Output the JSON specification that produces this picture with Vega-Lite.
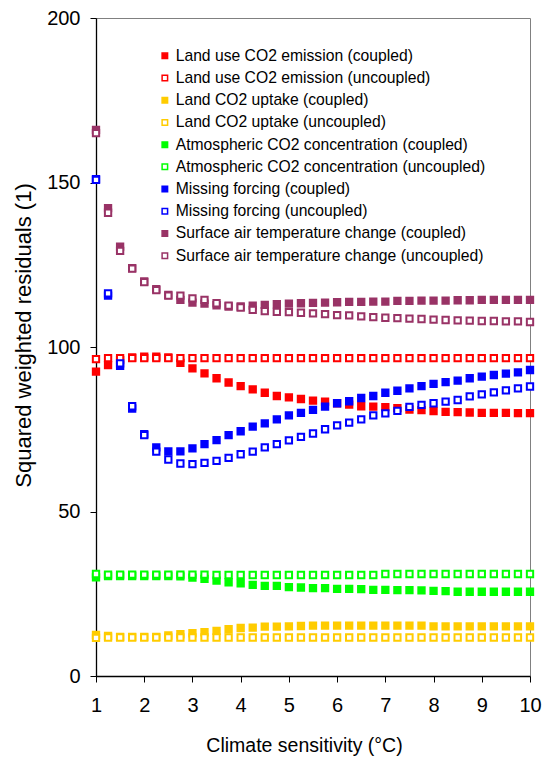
{
  "$schema": "https://vega.github.io/schema/vega-lite/v6.json",
  "width": 434,
  "height": 658,
  "autosize": {"type": "none"},
  "padding": {"left": 96, "top": 18, "right": 13, "bottom": 82},
  "config": {
    "font": "Liberation Sans",
    "view": {"stroke": "#808080", "strokeWidth": 1},
    "axis": {
      "grid": false,
      "domainColor": "black",
      "tickColor": "black",
      "labelColor": "black",
      "titleColor": "black",
      "labelFont": "Liberation Sans",
      "titleFont": "Liberation Sans",
      "labelFontSize": 20,
      "titleFontSize": 19.5,
      "titleFontWeight": "normal",
      "tickSize": 6,
      "domainWidth": 1.3,
      "tickWidth": 1,
      "labelFlush": false,
      "labelOverlap": false
    },
    "legend": {
      "orient": "none",
      "legendX": 61,
      "legendY": 30,
      "padding": 0,
      "labelFont": "Liberation Sans",
      "labelFontSize": 15.7,
      "labelColor": "black",
      "labelLimit": 500,
      "symbolType": "square",
      "symbolSize": 30,
      "symbolStrokeWidth": 1.5,
      "symbolOpacity": 1,
      "labelOffset": 3,
      "rowPadding": 5.2
    }
  },
  "data": {
    "values": [
      {"x": 1, "Ec": 92.5, "Eu": 96.3, "Uc": 12.5, "Uu": 11.6, "Ac": 30.0, "Au": 31.0, "Mc": 151.0, "Mu": 150.8, "Tc": 166.0, "Tu": 165.0},
      {"x": 1.25, "Ec": 94.5, "Eu": 96.6, "Uc": 12.2, "Uu": 11.7, "Ac": 30.4, "Au": 30.8, "Mc": 115.6, "Mu": 116.3, "Tc": 142.2, "Tu": 140.8},
      {"x": 1.5, "Ec": 96.0, "Eu": 96.6, "Uc": 11.9, "Uu": 11.7, "Ac": 30.4, "Au": 30.8, "Mc": 94.3, "Mu": 95.0, "Tc": 130.5, "Tu": 129.2},
      {"x": 1.75, "Ec": 96.8, "Eu": 96.6, "Uc": 11.9, "Uu": 11.7, "Ac": 30.4, "Au": 30.8, "Mc": 81.3, "Mu": 82.0, "Tc": 124.0, "Tu": 123.8},
      {"x": 2, "Ec": 97.1, "Eu": 96.6, "Uc": 11.9, "Uu": 11.7, "Ac": 30.4, "Au": 30.8, "Mc": 73.5, "Mu": 73.2, "Tc": 119.9, "Tu": 119.7},
      {"x": 2.25, "Ec": 97.1, "Eu": 96.6, "Uc": 11.9, "Uu": 11.7, "Ac": 30.4, "Au": 30.8, "Mc": 69.5, "Mu": 68.2, "Tc": 117.6, "Tu": 117.3},
      {"x": 2.5, "Ec": 96.8, "Eu": 96.6, "Uc": 12.3, "Uu": 11.7, "Ac": 30.4, "Au": 30.8, "Mc": 68.3, "Mu": 65.8, "Tc": 115.8, "Tu": 115.6},
      {"x": 2.75, "Ec": 95.2, "Eu": 96.6, "Uc": 12.7, "Uu": 11.7, "Ac": 30.3, "Au": 30.8, "Mc": 68.3, "Mu": 64.6, "Tc": 114.3, "Tu": 115.6},
      {"x": 3, "Ec": 93.5, "Eu": 96.6, "Uc": 13.0, "Uu": 11.7, "Ac": 29.9, "Au": 30.8, "Mc": 69.2, "Mu": 64.4, "Tc": 113.5, "Tu": 114.8},
      {"x": 3.25, "Ec": 92.0, "Eu": 96.6, "Uc": 13.3, "Uu": 11.7, "Ac": 29.5, "Au": 30.8, "Mc": 70.5, "Mu": 64.8, "Tc": 113.2, "Tu": 114.3},
      {"x": 3.5, "Ec": 90.5, "Eu": 96.6, "Uc": 13.7, "Uu": 11.7, "Ac": 29.0, "Au": 30.7, "Mc": 71.7, "Mu": 65.4, "Tc": 112.7, "Tu": 113.3},
      {"x": 3.75, "Ec": 89.2, "Eu": 96.6, "Uc": 14.2, "Uu": 11.7, "Ac": 28.5, "Au": 30.7, "Mc": 73.2, "Mu": 66.3, "Tc": 112.3, "Tu": 112.6},
      {"x": 4, "Ec": 88.1, "Eu": 96.6, "Uc": 14.6, "Uu": 11.7, "Ac": 28.2, "Au": 30.7, "Mc": 74.4, "Mu": 67.4, "Tc": 112.3, "Tu": 112.0},
      {"x": 4.25, "Ec": 87.1, "Eu": 96.6, "Uc": 14.7, "Uu": 11.7, "Ac": 27.7, "Au": 30.7, "Mc": 75.8, "Mu": 68.2, "Tc": 112.6, "Tu": 111.3},
      {"x": 4.5, "Ec": 86.1, "Eu": 96.6, "Uc": 15.0, "Uu": 11.7, "Ac": 27.4, "Au": 30.7, "Mc": 76.8, "Mu": 69.5, "Tc": 112.8, "Tu": 110.9},
      {"x": 4.75, "Ec": 85.1, "Eu": 96.6, "Uc": 15.0, "Uu": 11.7, "Ac": 27.4, "Au": 30.7, "Mc": 78.0, "Mu": 70.5, "Tc": 113.0, "Tu": 110.7},
      {"x": 5, "Ec": 84.7, "Eu": 96.6, "Uc": 15.1, "Uu": 11.7, "Ac": 27.0, "Au": 30.7, "Mc": 79.2, "Mu": 71.6, "Tc": 113.2, "Tu": 110.6},
      {"x": 5.25, "Ec": 84.2, "Eu": 96.6, "Uc": 15.2, "Uu": 11.7, "Ac": 26.9, "Au": 30.7, "Mc": 80.0, "Mu": 72.7, "Tc": 113.3, "Tu": 110.4},
      {"x": 5.5, "Ec": 83.7, "Eu": 96.6, "Uc": 15.3, "Uu": 11.7, "Ac": 26.7, "Au": 30.7, "Mc": 80.9, "Mu": 73.7, "Tc": 113.4, "Tu": 110.2},
      {"x": 5.75, "Ec": 83.4, "Eu": 96.6, "Uc": 15.3, "Uu": 11.7, "Ac": 26.7, "Au": 30.7, "Mc": 81.9, "Mu": 75.0, "Tc": 113.5, "Tu": 110.0},
      {"x": 6, "Ec": 82.9, "Eu": 96.6, "Uc": 15.3, "Uu": 11.7, "Ac": 26.5, "Au": 30.7, "Mc": 82.9, "Mu": 76.2, "Tc": 113.6, "Tu": 109.7},
      {"x": 6.25, "Ec": 82.5, "Eu": 96.6, "Uc": 15.3, "Uu": 11.7, "Ac": 26.5, "Au": 30.7, "Mc": 83.5, "Mu": 77.0, "Tc": 113.7, "Tu": 109.6},
      {"x": 6.5, "Ec": 82.0, "Eu": 96.6, "Uc": 15.3, "Uu": 11.7, "Ac": 26.4, "Au": 30.7, "Mc": 84.5, "Mu": 78.0, "Tc": 113.7, "Tu": 109.3},
      {"x": 6.75, "Ec": 81.9, "Eu": 96.6, "Uc": 15.3, "Uu": 11.7, "Ac": 26.2, "Au": 30.7, "Mc": 85.1, "Mu": 79.2, "Tc": 113.8, "Tu": 109.1},
      {"x": 7, "Ec": 81.7, "Eu": 96.6, "Uc": 15.3, "Uu": 11.7, "Ac": 26.2, "Au": 31.0, "Mc": 86.1, "Mu": 79.8, "Tc": 113.8, "Tu": 108.9},
      {"x": 7.25, "Ec": 81.4, "Eu": 96.6, "Uc": 15.3, "Uu": 11.7, "Ac": 26.1, "Au": 31.0, "Mc": 86.7, "Mu": 80.6, "Tc": 114.0, "Tu": 108.8},
      {"x": 7.5, "Ec": 81.0, "Eu": 96.6, "Uc": 15.3, "Uu": 11.7, "Ac": 26.1, "Au": 31.0, "Mc": 87.4, "Mu": 81.8, "Tc": 114.0, "Tu": 108.6},
      {"x": 7.75, "Ec": 80.8, "Eu": 96.6, "Uc": 15.3, "Uu": 11.7, "Ac": 26.0, "Au": 31.0, "Mc": 88.1, "Mu": 82.4, "Tc": 114.1, "Tu": 108.5},
      {"x": 8, "Ec": 80.5, "Eu": 96.6, "Uc": 15.1, "Uu": 11.7, "Ac": 25.9, "Au": 31.0, "Mc": 88.8, "Mu": 82.9, "Tc": 114.1, "Tu": 108.3},
      {"x": 8.25, "Ec": 80.3, "Eu": 96.6, "Uc": 15.1, "Uu": 11.7, "Ac": 25.8, "Au": 31.0, "Mc": 89.3, "Mu": 83.4, "Tc": 114.1, "Tu": 108.2},
      {"x": 8.5, "Ec": 80.2, "Eu": 96.6, "Uc": 15.1, "Uu": 11.7, "Ac": 25.6, "Au": 31.0, "Mc": 89.8, "Mu": 83.9, "Tc": 114.2, "Tu": 108.1},
      {"x": 8.75, "Ec": 80.1, "Eu": 96.6, "Uc": 15.1, "Uu": 11.7, "Ac": 25.6, "Au": 31.0, "Mc": 90.5, "Mu": 85.0, "Tc": 114.2, "Tu": 108.0},
      {"x": 9, "Ec": 80.0, "Eu": 96.6, "Uc": 15.1, "Uu": 11.7, "Ac": 25.6, "Au": 31.0, "Mc": 91.0, "Mu": 85.6, "Tc": 114.3, "Tu": 107.9},
      {"x": 9.25, "Ec": 80.0, "Eu": 96.6, "Uc": 15.1, "Uu": 11.7, "Ac": 25.6, "Au": 31.0, "Mc": 91.5, "Mu": 86.2, "Tc": 114.3, "Tu": 107.9},
      {"x": 9.5, "Ec": 80.0, "Eu": 96.6, "Uc": 15.1, "Uu": 11.7, "Ac": 25.6, "Au": 31.0, "Mc": 91.9, "Mu": 86.8, "Tc": 114.3, "Tu": 107.8},
      {"x": 9.75, "Ec": 79.9, "Eu": 96.6, "Uc": 15.1, "Uu": 11.7, "Ac": 25.6, "Au": 31.0, "Mc": 92.3, "Mu": 87.4, "Tc": 114.3, "Tu": 107.8},
      {"x": 10, "Ec": 79.9, "Eu": 96.6, "Uc": 15.1, "Uu": 11.7, "Ac": 25.6, "Au": 31.0, "Mc": 93.0, "Mu": 88.0, "Tc": 114.3, "Tu": 107.6}
    ]
  },
  "transform": [
    {"fold": ["Ec", "Eu", "Uc", "Uu", "Ac", "Au", "Mc", "Mu", "Tc", "Tu"], "as": ["series", "value"]}
  ],
  "mark": {"type": "point", "shape": "square", "size": 40, "strokeWidth": 2, "opacity": 1, "clip": false},
  "encoding": {
    "x": {
      "field": "x",
      "type": "quantitative",
      "scale": {"domain": [1, 10], "nice": false, "zero": false},
      "axis": {"values": [1, 2, 3, 4, 5, 6, 7, 8, 9, 10], "title": "Climate sensitivity (°C)", "labelPadding": 13, "titlePadding": 21, "titleX": 208}
    },
    "y": {
      "field": "value",
      "type": "quantitative",
      "scale": {"domain": [0, 200], "nice": false},
      "axis": {"values": [0, 50, 100, 150, 200], "title": "Squared weighted residuals (1)", "labelPadding": 10, "titlePadding": 11, "titleFontSize": 22, "titleY": 317}
    },
    "fill": {
      "field": "series",
      "type": "nominal",
      "scale": {
        "domain": ["Ec", "Eu", "Uc", "Uu", "Ac", "Au", "Mc", "Mu", "Tc", "Tu"],
        "range": ["#ff0000", "#ffffff", "#ffcc00", "#ffffff", "#00ff00", "#ffffff", "#0000ff", "#ffffff", "#993366", "#ffffff"]
      },
      "legend": {
        "title": null,
        "labelExpr": "{'Ec': 'Land use CO2 emission (coupled)', 'Eu': 'Land use CO2 emission (uncoupled)', 'Uc': 'Land CO2 uptake (coupled)', 'Uu': 'Land CO2 uptake (uncoupled)', 'Ac': 'Atmospheric CO2 concentration (coupled)', 'Au': 'Atmospheric CO2 concentration (uncoupled)', 'Mc': 'Missing forcing (coupled)', 'Mu': 'Missing forcing (uncoupled)', 'Tc': 'Surface air temperature change (coupled)', 'Tu': 'Surface air temperature change (uncoupled)'}[datum.value]"
      }
    },
    "stroke": {
      "field": "series",
      "type": "nominal",
      "scale": {
        "domain": ["Ec", "Eu", "Uc", "Uu", "Ac", "Au", "Mc", "Mu", "Tc", "Tu"],
        "range": ["#ff0000", "#ff0000", "#ffcc00", "#ffcc00", "#00ff00", "#00ff00", "#0000ff", "#0000ff", "#993366", "#993366"]
      },
      "legend": {
        "title": null,
        "labelExpr": "{'Ec': 'Land use CO2 emission (coupled)', 'Eu': 'Land use CO2 emission (uncoupled)', 'Uc': 'Land CO2 uptake (coupled)', 'Uu': 'Land CO2 uptake (uncoupled)', 'Ac': 'Atmospheric CO2 concentration (coupled)', 'Au': 'Atmospheric CO2 concentration (uncoupled)', 'Mc': 'Missing forcing (coupled)', 'Mu': 'Missing forcing (uncoupled)', 'Tc': 'Surface air temperature change (coupled)', 'Tu': 'Surface air temperature change (uncoupled)'}[datum.value]"
      }
    }
  }
}
